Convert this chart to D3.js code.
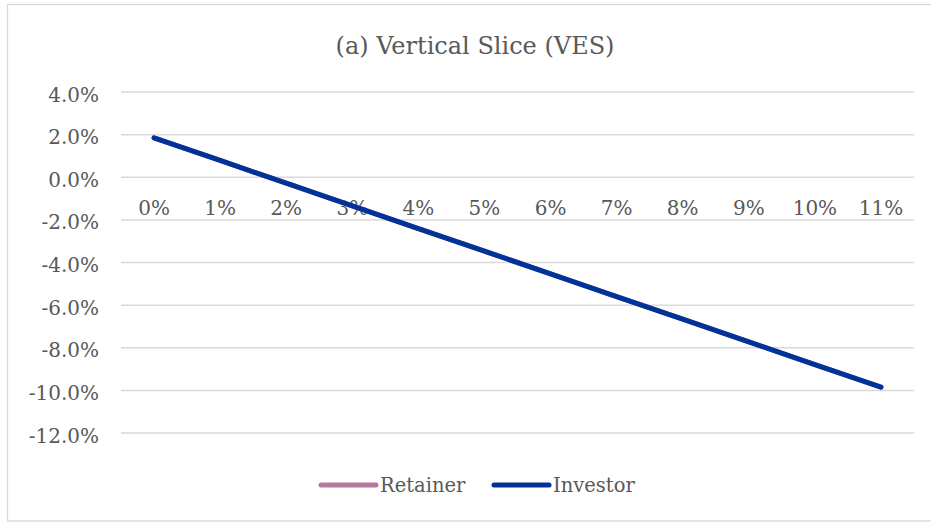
<!DOCTYPE html>
<html>
<head>
<meta charset="utf-8">
<script src="https://cdn.jsdelivr.net/npm/d3@7"></script>
<style>
body { margin: 0; background: #fff; }
text { font-family: "DejaVu Serif", serif; fill: #595959; }
</style>
</head>
<body>
<div id="my_dataviz"></div>
<script>
var categories = ["0%", "1%", "2%", "3%", "4%", "5%", "6%", "7%", "8%", "9%", "10%", "11%"];
var retainer = [1.85, 0.79, -0.28, -1.34, -2.41, -3.47, -4.53, -5.60, -6.66, -7.72, -8.79, -9.85];
var investor = [1.85, 0.79, -0.28, -1.34, -2.41, -3.47, -4.53, -5.60, -6.66, -7.72, -8.79, -9.85];
var yTicks = [4, 2, 0, -2, -4, -6, -8, -10, -12];
var seriesNames = ["Retainer", "Investor"];
var seriesColors = ["#b5799f", "#003399"];

var W = 931, H = 522;
var margin = {top: 92, right: 17, bottom: 89, left: 121};
var width = W - margin.left - margin.right;
var height = H - margin.top - margin.bottom;

var root = d3.select('#my_dataviz')
.append('svg')
.attr('width', W)
.attr('height', H);

root.append('rect')
.attr('x', 7.5).attr('y', 4.5)
.attr('width', W).attr('height', H - 5.5)
.attr('fill', '#fff')
.attr('stroke', '#d9d9d9')
.attr('stroke-width', 1.3);

root.append('text')
.attr('x', 475).attr('y', 54)
.attr('text-anchor', 'middle')
.style('font-size', '24px')
.text('(a) Vertical Slice (VES)');

var svg = root.append('g')
.attr('transform', 'translate(' + margin.left + ',' + margin.top + ')');

var x = d3.scaleBand()
.range([0, width])
.domain(categories);

var y = d3.scaleLinear()
.range([0, height])
.domain([4, -12]);

// gridlines
svg.append('g')
.selectAll('line')
.data(yTicks)
.enter()
.append('line')
.attr('x1', 0).attr('x2', width)
.attr('y1', function(d) {return y(d)})
.attr('y2', function(d) {return y(d)})
.attr('stroke', '#d9d9d9')
.attr('stroke-width', 1.5);

// y axis labels
var yAxis = svg.append('g')
.call(d3.axisLeft(y).tickValues(yTicks).tickSize(0).tickPadding(22)
  .tickFormat(function(d) {return d3.format('.1f')(d).replace('−', '-') + '%'}));
yAxis.select('.domain').remove();
yAxis.selectAll('text').style('font-size', '20px').attr('fill', '#595959').attr('dy', '0.45em');

// x axis labels at zero line
var xAxis = svg.append('g')
.attr('transform', 'translate(0,' + y(0) + ')')
.call(d3.axisBottom(x).tickSize(0).tickPadding(24));
xAxis.select('.domain').remove();
xAxis.selectAll('text').style('font-size', '20px').attr('fill', '#595959');

var line = d3.line()
.x(function(d, i) {return x(categories[i]) + x.bandwidth() / 2})
.y(function(d) {return y(d)});

[retainer, investor].forEach(function(s, i) {
  svg.append('path')
  .datum(s)
  .attr('d', line)
  .attr('fill', 'none')
  .attr('stroke', seriesColors[i])
  .attr('stroke-width', 5)
  .attr('stroke-linecap', 'round')
  .attr('stroke-linejoin', 'round');
});

// legend
var legendX = [321, 494];
var legend = root.append('g');
seriesNames.forEach(function(n, i) {
  legend.append('line')
  .attr('x1', legendX[i]).attr('x2', legendX[i] + 55)
  .attr('y1', 485).attr('y2', 485)
  .attr('stroke', seriesColors[i])
  .attr('stroke-width', 5)
  .attr('stroke-linecap', 'round');
  legend.append('text')
  .attr('x', legendX[i] + 59).attr('y', 492)
  .style('font-size', '19.5px')
  .text(n);
});
</script>
</body>
</html>
